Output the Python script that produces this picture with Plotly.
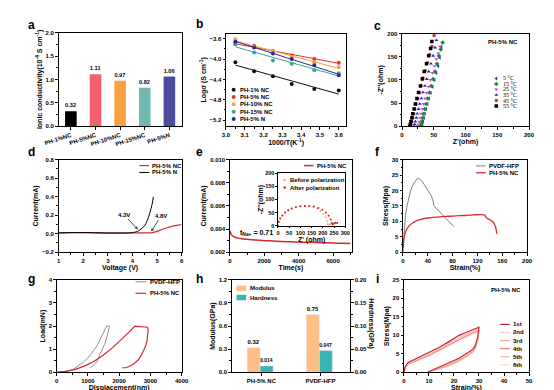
import plotly.graph_objects as go

W, H = 554, 390
FONT = "Liberation Sans, Arial, sans-serif"

# ---------------- data ----------------
a_cats = ["PH-1%NC", "PH-5%NC", "PH-10%NC", "PH-15%NC", "PH-5%N"]
a_vals = [0.32, 1.11, 0.97, 0.82, 1.06]
a_labels = ["0.32", "1.11", "0.97", "0.82", "1.06"]
a_colors = ["#000000", "#f4606c", "#f8a13e", "#72b8b2", "#4c4c9e"]

b_x = [3.05, 3.15, 3.25, 3.35, 3.47, 3.60]
b_names = ["PH-1% NC", "PH-5% NC", "PH-10% NC", "PH-15% NC", "PH-5% N"]
b_vals = [
    [-4.06, -4.24, -4.34, -4.49, -4.59, -4.62],
    [-3.71, -3.74, -3.84, -3.93, -4.00, -4.07],
    [-3.61, -3.76, -3.85, -3.96, -4.06, -4.16],
    [-3.70, -3.87, -4.03, -4.09, -4.22, -4.28],
    [-3.66, -3.77, -3.89, -4.00, -4.12, -4.32],
]
b_colors = ["#111111", "#e8322e", "#f5a03c", "#3aa39a", "#2b2b8f"]

c_names = ["5 °C", "15 °C", "25 °C", "35 °C", "45 °C", "55 °C"]
c_colors = ["#1f2f9f", "#1a8c2a", "#e23ce2", "#2323d8", "#e03030", "#000000"]
c_symbols = ["triangle-left", "diamond", "triangle-down", "triangle-up", "circle", "square"]
c_zre = [
    [31, 32, 33, 34.5, 36, 38, 40, 42.5, 45, 48, 51, 54, 57, 59.5, 62],
    [29, 30, 31, 32.5, 34, 36, 38, 40.5, 43, 46, 49, 52, 55, 58, 61, 64],
    [25, 26, 27, 28.5, 30, 32, 34, 36.5, 39, 42, 45, 48, 51, 54, 57, 60],
    [19, 20, 21, 22.5, 24, 26, 28, 30.5, 33, 36, 39, 42, 45.5, 49, 52, 54],
    [13, 14, 15, 16.5, 18, 20, 22, 24.5, 27, 30, 33, 36.5, 40, 43.5, 47, 50.5],
    [12, 13, 14, 15.5, 17, 19, 21, 23.5, 26, 29, 32, 35, 38.5, 42, 45, 47],
]
c_zim = [
    [0, 4, 10, 18, 27, 37, 48, 60, 72, 85, 100, 115, 130, 148, 172],
    [0, 4, 10, 18, 27, 37, 48, 60, 73, 87, 102, 118, 135, 152, 166, 181],
    [0, 4, 10, 18, 27, 37, 48, 60, 72, 85, 100, 115, 130, 145, 158, 172],
    [0, 4, 10, 18, 27, 37, 48, 60, 73, 87, 102, 118, 135, 152, 170, 186],
    [0, 4, 10, 18, 27, 37, 48, 60, 73, 88, 104, 120, 137, 155, 172, 196],
    [0, 4, 10, 18, 27, 37, 48, 60, 73, 87, 102, 118, 135, 152, 168, 183],
]

d_nc_v = [1, 1.5, 2, 2.5, 3, 3.5, 4, 4.5, 4.8, 5.0, 5.2, 5.4, 5.6, 5.8, 6.0]
d_nc_i = [0.005, 0.012, 0.012, 0.010, 0.006, 0.006, 0.008, 0.010, 0.012, 0.025, 0.045, 0.065, 0.080, 0.090, 0.100]
d_n_v = [1, 1.5, 2, 2.5, 3, 3.5, 4, 4.2, 4.3, 4.4, 4.5, 4.6, 4.7, 4.8, 4.85]
d_n_i = [0.010, 0.012, 0.012, 0.010, 0.008, 0.008, 0.012, 0.025, 0.040, 0.060, 0.090, 0.140, 0.220, 0.320, 0.400]

e_t = [0, 20, 50, 100, 200, 300, 500, 700, 1000, 1500, 2000, 2500, 3000, 3500, 4000, 4500, 5000, 5500, 6000, 6500, 7000]
e_i = [0.0036, 0.0038, 0.00365, 0.0035, 0.00338, 0.0033, 0.00322, 0.00317, 0.00312, 0.00305, 0.0030,
       0.00297, 0.00293, 0.0029, 0.00288, 0.00286, 0.00284, 0.00282, 0.0028, 0.00277, 0.00275]
e_before_re = [0, 4, 10, 20, 32, 46, 62, 80, 100, 120, 140, 158, 175, 190, 202, 212, 218, 222, 226, 232, 238, 245]
e_before_im = [0, 15, 27, 39, 50, 59, 66, 71, 74, 75, 74, 71, 65, 56, 45, 32, 18, 6, 3, 5, 7, 8]
e_after_re = [0, 4, 10, 20, 32, 46, 62, 80, 100, 120, 140, 160, 180, 198, 214, 226, 235, 240, 244, 250, 257, 264]
e_after_im = [0, 15, 27, 39, 50, 59, 66, 71, 74, 75, 75, 73, 68, 61, 50, 38, 24, 10, 4, 8, 11, 10]

f_pv_x = [0, 1, 2, 4, 6, 9, 12, 16, 20, 23, 26, 30, 34, 38, 42, 46, 48, 50, 54, 60, 66, 72, 78, 82]
f_pv_y = [0, 4, 8, 12, 14.5, 17.5, 19.8, 21.8, 23.2, 23.9, 23.8, 23.2, 22.0, 20.6, 19.4, 18.2, 17.0, 15.0,
          14.2, 13.0, 11.8, 10.5, 9.2, 8.3]
f_ph_x = [0, 1, 2, 4, 7, 10, 15, 20, 30, 40, 55, 70, 85, 100, 115, 125, 132, 134, 137, 141, 145, 148, 150, 151]
f_ph_y = [1.5, 3.5, 5.0, 6.5, 7.8, 8.6, 9.4, 10.0, 10.7, 11.1, 11.4, 11.6, 11.8, 11.9, 12.1, 12.2, 12.0,
          11.3, 10.8, 10.4, 9.8, 8.8, 7.5, 6.0]

g_pv_x = [0, 200, 400, 550, 700, 850, 1000, 1100, 1210, 1310, 1400, 1500, 1600, 1690, 1660, 1620, 1560,
          1470, 1410, 1350, 1280, 1200, 1140, 1080]
g_pv_y = [0, 0.02, 0.07, 0.15, 0.28, 0.44, 0.62, 0.78, 0.99, 1.2, 1.45, 1.72, 2.0, 2.0, 1.8, 1.6, 1.3,
          1.0, 0.8, 0.6, 0.45, 0.33, 0.26, 0.2]
g_ph_x = [0, 300, 600, 900, 1200, 1500, 1800, 2100, 2350, 2500, 2700, 2900, 2930, 2920, 2890, 2840,
          2790, 2700, 2600, 2450, 2300, 2200, 2100]
g_ph_y = [0, 0.04, 0.13, 0.28, 0.48, 0.75, 1.08, 1.45, 1.78, 2.0, 1.98, 1.95, 1.85, 1.6, 1.35, 1.12,
          0.95, 0.72, 0.52, 0.35, 0.24, 0.2, 0.2]

h_cats = ["PH-5% NC", "PVDF-HFP"]
h_mod = [0.32, 0.75]
h_mod_lab = ["0.32", "0.75"]
h_hard = [0.014, 0.047]
h_hard_lab = ["0.014", "0.047"]

i_names = ["1st", "2nd", "3rd", "4th", "5th", "6th"]
i_colors = ["#c8262c", "#f9cfc9", "#f2a39e", "#ea7f7b", "#f4b6b2", "#fbdcd8"]
i_x = [0, 0.5, 1.5, 3, 6, 10, 14, 18, 22, 26, 30, 29.5, 28.5, 27.5, 25, 22, 18, 14, 11, 9.5]
i_y = [
    [0, 1.5, 2.6, 3.1, 4.0, 5.3, 6.7, 8.3, 10.0, 11.1, 12.2, 9.5, 7.2, 6.2, 5.0, 3.8, 2.6, 1.5, 0.5, 0],
    [0, 1.3, 2.4, 2.9, 3.8, 5.0, 6.4, 8.0, 9.6, 10.8, 11.9, 9.2, 7.0, 6.0, 4.8, 3.6, 2.4, 1.3, 0.4, 0],
    [0, 1.2, 2.3, 2.8, 3.6, 4.8, 6.2, 7.7, 9.3, 10.5, 11.6, 9.0, 6.8, 5.8, 4.6, 3.4, 2.2, 1.2, 0.3, 0],
    [0, 1.1, 2.2, 2.7, 3.5, 4.6, 6.0, 7.5, 9.0, 10.2, 11.4, 8.8, 6.6, 5.6, 4.4, 3.2, 2.0, 1.0, 0.2, 0],
    [0, 1.0, 2.1, 2.6, 3.4, 4.5, 5.8, 7.3, 8.8, 10.0, 11.2, 8.6, 6.4, 5.4, 4.2, 3.0, 1.8, 0.9, 0.2, 0],
    [0, 0.9, 2.0, 2.5, 3.3, 4.4, 5.7, 7.1, 8.6, 9.8, 11.0, 8.4, 6.2, 5.2, 4.0, 2.8, 1.6, 0.8, 0.1, 0],
]

# ---------------- helpers ----------------
TF = dict(family=FONT, size=6, color="black", weight="bold")
TTF = dict(family=FONT, size=7, color="black", weight="bold")


def xd(l, r):
    return [l / W, r / W]


def yd(t, b):
    return [1 - b / H, 1 - t / H]


def lin_axis(dom, rng, dtick, anchor, title=None, fmt=None, tick0=None, minor=True, tf=TF, standoff=2, **kw):
    d = dict(domain=dom, range=rng, dtick=dtick, anchor=anchor, showline=True, mirror=True,
             linecolor="black", linewidth=0.9, ticks="outside", ticklen=2.5, tickwidth=0.8,
             tickcolor="black", showgrid=False, zeroline=False, tickfont=tf)
    if tick0 is not None:
        d["tick0"] = tick0
    if minor:
        d["minor"] = dict(ticks="outside", ticklen=1.5, dtick=dtick / 2, tickcolor="black",
                          tickwidth=0.6, showgrid=False)
    if title:
        d["title"] = dict(text=title, font=TTF, standoff=standoff)
    if fmt:
        d["tickformat"] = fmt
    d.update(kw)
    return d


fig = go.Figure()
ann = []
shapes = []

# ---- a ----
fig.add_trace(go.Bar(x=a_cats, y=a_vals, marker=dict(color=a_colors, line=dict(width=0)), width=0.47,
                     text=a_labels, textposition="outside", textfont=TF, cliponaxis=False,
                     xaxis="x", yaxis="y"))
# ---- b ----
for name, vals, col in zip(b_names, b_vals, b_colors):
    n = len(b_x)
    mx = sum(b_x) / n
    my = sum(vals) / n
    slope = sum((x - mx) * (y - my) for x, y in zip(b_x, vals)) / sum((x - mx) ** 2 for x in b_x)
    fit = [my + slope * (x - mx) for x in b_x]
    fig.add_trace(go.Scatter(x=b_x, y=fit, mode="lines", line=dict(color=col, width=1), xaxis="x2", yaxis="y2"))
    fig.add_trace(go.Scatter(x=b_x, y=vals, mode="markers", marker=dict(color=col, size=4, symbol="circle"),
                             xaxis="x2", yaxis="y2"))
# ---- c ----
for zr, zi, col, sym in zip(c_zre, c_zim, c_colors, c_symbols):
    fig.add_trace(go.Scatter(x=zr, y=zi, mode="markers", marker=dict(color=col, size=3.5, symbol=sym),
                             xaxis="x3", yaxis="y3"))
# ---- d ----
fig.add_trace(go.Scatter(x=d_nc_v, y=d_nc_i, mode="lines", line=dict(color="#d62a2a", width=1.2, shape="spline"),
                         xaxis="x4", yaxis="y4"))
fig.add_trace(go.Scatter(x=d_n_v, y=d_n_i, mode="lines", line=dict(color="black", width=1, shape="spline"),
                         xaxis="x4", yaxis="y4"))
# ---- e ----
fig.add_trace(go.Scatter(x=e_t, y=e_i, mode="lines", line=dict(color="#d62a2a", width=1.5, shape="spline"),
                         xaxis="x5", yaxis="y5"))
fig.add_trace(go.Scatter(x=e_before_re, y=e_before_im, mode="markers", marker=dict(color="#f2b27a", size=2),
                         xaxis="x6", yaxis="y6"))
fig.add_trace(go.Scatter(x=e_after_re, y=e_after_im, mode="markers", marker=dict(color="#d62020", size=2),
                         xaxis="x6", yaxis="y6"))
# ---- f ----
fig.add_trace(go.Scatter(x=f_pv_x, y=f_pv_y, mode="lines", line=dict(color="#808080", width=1),
                         xaxis="x7", yaxis="y7"))
fig.add_trace(go.Scatter(x=f_ph_x, y=f_ph_y, mode="lines", line=dict(color="#e02a2a", width=1.3, shape="spline"),
                         xaxis="x7", yaxis="y7"))
# ---- g ----
fig.add_trace(go.Scatter(x=g_pv_x, y=g_pv_y, mode="lines", line=dict(color="#909090", width=1),
                         xaxis="x8", yaxis="y8"))
fig.add_trace(go.Scatter(x=g_ph_x, y=g_ph_y, mode="lines", line=dict(color="#d42a30", width=1.2),
                         xaxis="x8", yaxis="y8"))
# ---- h ----
fig.add_trace(go.Bar(x=h_cats, y=h_mod, width=0.22, offset=-0.24, marker=dict(color="#fdbf86"),
                     text=h_mod_lab, textposition="outside", textfont=TF, cliponaxis=False,
                     xaxis="x9", yaxis="y9"))
fig.add_trace(go.Bar(x=h_cats, y=h_hard, width=0.22, offset=-0.02, marker=dict(color="#3bb3b5"),
                     text=h_hard_lab, textposition="outside", textfont=TF, cliponaxis=False,
                     xaxis="x9", yaxis="y10"))
# ---- i ----
for k in range(5, -1, -1):
    fig.add_trace(go.Scatter(x=i_x, y=i_y[k], mode="lines",
                             line=dict(color=i_colors[k], width=1.2 if k == 0 else 0.9),
                             xaxis="x10", yaxis="y11"))

# ---------------- manual legend keys (pixel overlay axis) ----------------
def key_line(x0, x1, y, color, width=1.2):
    fig.add_trace(go.Scatter(x=[x0, x1], y=[y, y], mode="lines", line=dict(color=color, width=width),
                             xaxis="x11", yaxis="y12", hoverinfo="skip"))


def key_marker(x, y, color, symbol="circle", size=4):
    fig.add_trace(go.Scatter(x=[x], y=[y], mode="markers", marker=dict(color=color, size=size, symbol=symbol),
                             xaxis="x11", yaxis="y12", hoverinfo="skip"))


def key_text(x, y, text, font=TF):
    ann.append(dict(x=x / W, y=1 - y / H, xref="paper", yref="paper", text=text, showarrow=False,
                    xanchor="left", yanchor="middle", font=font))


# b legend
for k, (name, col) in enumerate(zip(b_names, b_colors)):
    yy = 80 + 7.4 * k
    key_marker(220, yy, col, "circle", 4)
    key_text(225, yy, name)
# c legend
SERIF = dict(family="Liberation Serif, DejaVu Serif, serif", size=6, color="black")
for k, (name, col, sym) in enumerate(zip(c_names, c_colors, c_symbols)):
    yy = 68.5 + 5.6 * k
    key_marker(493, yy, col, sym, 3.5)
    key_text(497.5, yy, name, SERIF)
# d legend
key_line(122, 132, 157, "#d62a2a")
key_text(133.5, 157, "PH-5% NC")
key_line(122, 132, 164, "black", 1)
key_text(133.5, 164, "PH-5% N")
# e legend
key_line(293, 303, 157, "#d62a2a", 1.5)
key_text(304.5, 157, "PH-5% NC")
key_marker(273, 171.7, "#f2b27a", "circle", 2.5)
key_text(276.5, 171.7, "Before polarization")
key_marker(273, 179.3, "#d62020", "circle", 2.5)
key_text(276.5, 179.3, "After polarization")
# f legend
key_line(472, 482, 157.3, "#808080", 1)
key_text(483.5, 157.3, "PVDF-HFP")
key_line(472, 482, 164.3, "#e02a2a", 1.3)
key_text(483.5, 164.3, "PH-5% NC")
# g legend
key_line(118, 129, 275, "#909090", 1)
key_text(130.5, 275, "PVDF-HFP")
key_line(118, 129, 286.7, "#d42a30", 1.2)
key_text(130.5, 286.7, "PH-5% NC")
# h legend patches
for yy, col, name in [(281.7, "#fdbf86", "Modulus"), (291, "#3bb3b5", "Hardness")]:
    shapes.append(dict(type="rect", xref="paper", yref="paper", x0=223 / W, x1=233 / W,
                       y0=1 - (yy + 2.8) / H, y1=1 - (yy - 2.8) / H, fillcolor=col, line=dict(width=0)))
    key_text(235, yy, name)
# i legend
for k, (name, col) in enumerate(zip(i_names, i_colors)):
    yy = 318.3 + 8.2 * k
    key_line(497, 507, yy, col, 1.2)
    key_text(508.5, yy, name)

# ---------------- annotations ----------------
LET = dict(family=FONT, size=12, color="black", weight="bold")
for t, x, y in [("a", 10, 14), ("b", 185, 13), ("c", 370, 15), ("d", 10, 143), ("e", 185, 143),
                ("f", 370, 143), ("g", 10, 272), ("h", 184, 272), ("i", 369, 272)]:
    ann.append(dict(x=x / W, y=1 - y / H, xref="paper", yref="paper", text=t, showarrow=False,
                    xanchor="center", yanchor="middle", font=LET))
ann.append(dict(x=500 / W, y=1 - 31.7 / H, xref="paper", yref="paper", text="PH-5% NC", showarrow=False,
                xanchor="center", yanchor="middle", font=TF))
ann.append(dict(x=503 / W, y=1 - 283.3 / H, xref="paper", yref="paper", text="PH-5% NC", showarrow=False,
                xanchor="center", yanchor="middle", font=TF))
ann.append(dict(x=4.22, y=0.045, xref="x4", yref="y4", text="4.3V", showarrow=True, arrowhead=2,
                arrowsize=0.7, arrowwidth=0.9, ax=-14, ay=-15, font=TF))
ann.append(dict(x=4.76, y=0.023, xref="x4", yref="y4", text="4.8V", showarrow=True, arrowhead=2,
                arrowsize=0.7, arrowwidth=0.9, ax=10, ay=-16, font=TF))
ann.append(dict(x=480, y=0.0037, xref="x5", yref="y5", text="t<sub>Na+</sub> = 0.71", showarrow=False,
                xanchor="left", yanchor="middle", font=TTF))
ann.append(dict(x=362.5 / W, y=1 - 318 / H, xref="paper", yref="paper", text="Hardness(GPa)", showarrow=False,
                textangle=90, xanchor="center", yanchor="middle", font=TTF))

# ---------------- layout ----------------
cat_base = dict(showline=True, mirror=True, linecolor="black", linewidth=0.9, ticks="outside", ticklen=2.5,
                tickwidth=0.8, tickcolor="black", showgrid=False, zeroline=False, tickfont=TF)
TF5 = dict(family=FONT, size=5.5, color="black", weight="bold")

layout = dict(
    width=W, height=H, margin=dict(l=0, r=0, t=0, b=0), paper_bgcolor="white",
    plot_bgcolor="rgba(0,0,0,0)", showlegend=False, barmode="overlay",
    font=dict(family=FONT, color="black"),
    xaxis=dict(cat_base, domain=xd(38, 166), anchor="y", type="category", tickangle=-18, range=[-0.5, 4.5]),
    yaxis=lin_axis(yd(22, 117), [0, 2], 0.5, "x", "Ionic conductivity(10<sup>-4</sup> S cm<sup>-1</sup>)", ".1f"),
    xaxis2=lin_axis(xd(212, 337), [3.0, 3.64], 0.1, "y2", "1000/T(K<sup>-1</sup>)", ".1f", tick0=3.0),
    yaxis2=lin_axis(yd(23, 117), [-5.32, -3.5], 0.4, "x2", "Logσ (S cm<sup>-1</sup>)", ".1f", tick0=-5.2),
    xaxis3=lin_axis(xd(395, 527), [0, 200], 50, "y3", "Z'(ohm)"),
    yaxis3=lin_axis(yd(23, 117), [0, 200], 50, "x3", "-Z''(ohm)"),
    xaxis4=lin_axis(xd(38, 166), [1, 6], 1, "y4", "Voltage (V)"),
    yaxis4=lin_axis(yd(151, 245), [-0.2, 0.8], 0.2, "x4", "Current(mA)", ".1f"),
    xaxis5=lin_axis(xd(216, 343), [0, 7100], 2000, "y5", "Time(s)", tick0=0),
    yaxis5=lin_axis(yd(151, 245), [0.002, 0.010], 0.002, "x5", "Current(mA)", ".3f"),
    xaxis6=lin_axis(xd(266, 336), [0, 300], 50, "y6", "Z' (ohm)", tf=TF5, minor=False, ticklen=1.5,
                    standoff=0),
    yaxis6=lin_axis(yd(165, 218), [0, 200], 50, "x6", "-Z''(ohm)", tf=TF5, minor=False, ticklen=1.5,
                    standoff=0),
    xaxis7=lin_axis(xd(396, 525), [0, 200], 40, "y7", "Strain(%)"),
    yaxis7=lin_axis(yd(151, 245), [0, 30], 5, "x7", "Stress(Mpa)"),
    xaxis8=lin_axis(xd(36, 166), [0, 4000], 1000, "y8", "Displacement(nm)", standoff=0),
    yaxis8=lin_axis(yd(273, 367), [0, 4], 1, "x8", "Load(mN)"),
    xaxis9=dict(cat_base, domain=xd(218, 341), anchor="y9", type="category", range=[-0.5, 1.5]),
    yaxis9=lin_axis(yd(273, 367), [0, 1.2], 0.3, "x9", "Modulus(GPa)", ".1f"),
    yaxis10=lin_axis(yd(273, 367), [0, 0.20], 0.05, "x9", None, ".2f", overlaying="y9", side="right"),
    xaxis10=lin_axis(xd(397, 527), [0, 50], 10, "y11", "Strain(%)", standoff=0),
    yaxis11=lin_axis(yd(273, 367), [0, 25], 5, "x10", "Stress(Mpa)"),
    xaxis11=dict(domain=[0, 1], range=[0, W], visible=False, anchor="y12", fixedrange=True),
    yaxis12=dict(domain=[0, 1], range=[H, 0], visible=False, anchor="x11", fixedrange=True),
    annotations=ann, shapes=shapes,
)
fig.update_layout(layout)
fig.write_html("out.html")
